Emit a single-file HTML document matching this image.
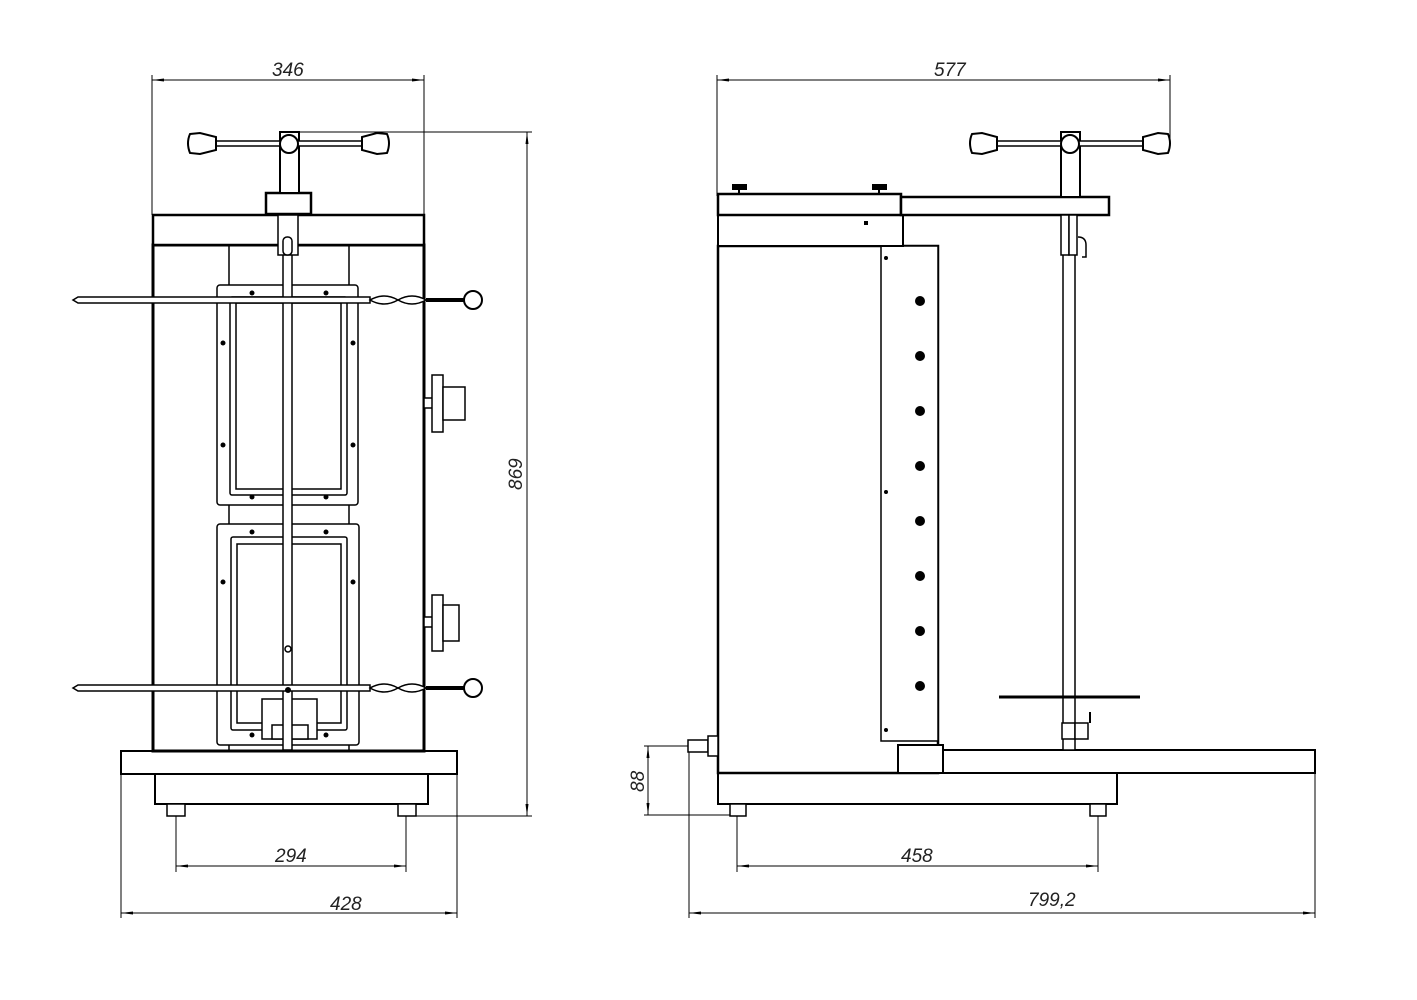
<!DOCTYPE html>
<html><head><meta charset="utf-8"><style>
html,body{margin:0;padding:0;background:#fff;}
svg{display:block}
text{font-family:"Liberation Sans",sans-serif;font-style:italic;font-size:19px;fill:#222}
</style></head><body>
<svg width="1417" height="1000" viewBox="0 0 1417 1000" xmlns="http://www.w3.org/2000/svg">
<defs>
<marker id="a" markerWidth="12" markerHeight="6" refX="12" refY="3" orient="auto-start-reverse" markerUnits="userSpaceOnUse"><path d="M0,1.5 L12,3 L0,4.5z" fill="#000"/></marker>
</defs>
<g fill="none" stroke="#000" stroke-width="1">
<!-- LEFT VIEW dims -->
<line x1="152" y1="75" x2="152" y2="215"/><line x1="424" y1="75" x2="424" y2="215"/>
<line x1="152" y1="80" x2="424" y2="80" marker-start="url(#a)" marker-end="url(#a)"/>
<line x1="299" y1="132" x2="532" y2="132"/><line x1="416" y1="816" x2="532" y2="816"/>
<line x1="527" y1="132" x2="527" y2="816" marker-start="url(#a)" marker-end="url(#a)"/>
<line x1="176" y1="792" x2="176" y2="872"/><line x1="406" y1="792" x2="406" y2="872"/>
<line x1="176" y1="866" x2="406" y2="866" marker-start="url(#a)" marker-end="url(#a)"/>
<line x1="121" y1="774" x2="121" y2="918"/><line x1="457" y1="774" x2="457" y2="918"/>
<line x1="121" y1="913" x2="457" y2="913" marker-start="url(#a)" marker-end="url(#a)"/>
<!-- RIGHT VIEW dims -->
<line x1="717" y1="75" x2="717" y2="196"/><line x1="1170" y1="75" x2="1170" y2="145"/>
<line x1="717" y1="80" x2="1170" y2="80" marker-start="url(#a)" marker-end="url(#a)"/>
<line x1="644" y1="746" x2="690" y2="746"/><line x1="644" y1="815" x2="730" y2="815"/>
<line x1="648" y1="746" x2="648" y2="815" marker-start="url(#a)" marker-end="url(#a)"/>
<line x1="737" y1="792" x2="737" y2="872"/><line x1="1098" y1="792" x2="1098" y2="872"/>
<line x1="737" y1="866" x2="1098" y2="866" marker-start="url(#a)" marker-end="url(#a)"/>
<line x1="689" y1="746" x2="689" y2="918"/><line x1="1315" y1="773" x2="1315" y2="918"/>
<line x1="689" y1="913" x2="1315" y2="913" marker-start="url(#a)" marker-end="url(#a)"/>
</g>
<text x="272" y="76">346</text>
<text x="275" y="862">294</text>
<text x="330" y="910">428</text>
<text x="934" y="76">577</text>
<text x="901" y="862">458</text>
<text x="1028" y="906">799,2</text>
<text transform="translate(522,490) rotate(-90)">869</text>
<text transform="translate(644,792) rotate(-90)">88</text>

<!-- LEFT VIEW -->
<g fill="#fff" stroke="#000" stroke-width="2">
<!-- base -->
<rect x="121" y="751" width="336" height="23"/>
<rect x="155" y="774" width="273" height="30"/>
<rect x="167" y="804" width="18" height="12" stroke-width="1.5"/>
<rect x="398" y="804" width="18" height="12" stroke-width="1.5"/>
<!-- body -->
<rect x="153" y="245" width="271" height="506" stroke-width="3"/>
<rect x="153" y="215" width="271" height="30" stroke-width="2.5"/>
<line x1="229" y1="245" x2="229" y2="750" stroke-width="1.5"/>
<line x1="349" y1="245" x2="349" y2="750" stroke-width="1.5"/>
<!-- frames -->
<rect x="217" y="285" width="141" height="220" rx="3" stroke-width="1.5"/>
<rect x="230" y="297" width="117" height="198" rx="2" stroke-width="1.5"/>
<rect x="236" y="303" width="105" height="186" stroke-width="1.5"/>
<rect x="217" y="524" width="142" height="221" rx="3" stroke-width="1.5"/>
<rect x="231" y="537" width="116" height="193" rx="2" stroke-width="1.5"/>
<rect x="237" y="544" width="104" height="179" stroke-width="1.5"/>
<rect x="262" y="699" width="55" height="40" stroke-width="1.5"/>
<rect x="272" y="725" width="36" height="14" stroke-width="1.5"/>
<!-- knobs -->
<rect x="424" y="398" width="9" height="10" stroke-width="1.5"/>
<rect x="432" y="375" width="11" height="57" stroke-width="1.5"/>
<rect x="443" y="387" width="22" height="33" stroke-width="1.5"/>
<rect x="424" y="617" width="9" height="10" stroke-width="1.5"/>
<rect x="432" y="595" width="11" height="56" stroke-width="1.5"/>
<rect x="443" y="605" width="16" height="36" stroke-width="1.5"/>
<!-- rod -->
<rect x="283" y="240" width="9" height="510" stroke-width="1.5"/>
<rect x="278" y="215" width="20" height="40" stroke-width="1.5"/>
<rect x="283" y="237" width="9" height="18" rx="4" stroke-width="1.5"/>
<circle cx="288" cy="649" r="3" stroke-width="1.5"/>
<!-- column/handle -->
<rect x="266" y="193" width="45" height="21" stroke-width="2.5"/>
<rect x="280" y="132" width="19" height="61"/>
<rect x="205" y="141" width="167" height="5" stroke-width="1.5"/>
<path d="M190,134 L200,133 L216,137 L216,150 L200,154 L190,153 Q186,143 190,134z"/>
<path d="M387,134 L377,133 L362,137 L362,150 L377,154 L387,153 Q391,143 387,134z"/>
<circle cx="289" cy="144" r="9"/>
<!-- skewers -->
<path d="M73,300 L78,297 L370,297 L370,303 L78,303z" stroke-width="1.5"/>
<path d="M370,300 q14,-8 28,0 q14,-8 28,0 q-14,8 -28,0 q-14,8 -28,0z" stroke-width="1.5"/>
<line x1="426" y1="300" x2="464" y2="300" stroke-width="4"/>
<circle cx="473" cy="300" r="9"/>
<path d="M73,688 L78,685 L370,685 L370,691 L78,691z" stroke-width="1.5"/>
<path d="M370,688 q14,-8 28,0 q14,-8 28,0 q-14,8 -28,0 q-14,8 -28,0z" stroke-width="1.5"/>
<line x1="426" y1="688" x2="464" y2="688" stroke-width="4"/>
<circle cx="473" cy="688" r="9"/>
</g>
<g fill="#000">
<circle cx="252" cy="293" r="2.5"/><circle cx="326" cy="293" r="2.5"/><circle cx="223" cy="343" r="2.5"/><circle cx="353" cy="343" r="2.5"/>
<circle cx="223" cy="445" r="2.5"/><circle cx="353" cy="445" r="2.5"/><circle cx="252" cy="497" r="2.5"/><circle cx="326" cy="497" r="2.5"/>
<circle cx="252" cy="532" r="2.5"/><circle cx="326" cy="532" r="2.5"/><circle cx="223" cy="582" r="2.5"/><circle cx="353" cy="582" r="2.5"/>
<circle cx="252" cy="735" r="2.5"/><circle cx="326" cy="735" r="2.5"/><circle cx="288" cy="690" r="3"/>
</g>

<!-- RIGHT VIEW -->
<g fill="#fff" stroke="#000" stroke-width="2">
<rect x="943" y="750" width="372" height="23"/>
<rect x="718" y="773" width="399" height="31"/>
<rect x="730" y="804" width="16" height="12" stroke-width="1.5"/>
<rect x="1090" y="804" width="16" height="12" stroke-width="1.5"/>
<rect x="718" y="246" width="220" height="527" stroke-width="2.5"/>
<rect x="898" y="745" width="45" height="28"/>
<rect x="881" y="246" width="57" height="495" stroke-width="1.5"/>
<rect x="718" y="215" width="185" height="31"/>
<rect x="718" y="194" width="183" height="21" stroke-width="2.5"/>
<rect x="901" y="197" width="208" height="18" stroke-width="2.5"/>
<path d="M688,740 h20 v12 h-20z" stroke-width="1.5"/>
<rect x="708" y="736" width="10" height="20" stroke-width="1.5"/>
<!-- rod -->
<rect x="1063" y="215" width="12" height="535" stroke-width="1.5"/>
<rect x="1061" y="215" width="8" height="40" stroke-width="1.5"/>
<rect x="1069" y="215" width="8" height="40" stroke-width="1.5"/>
<path d="M1078,237 q8,0 8,8 v12 h-4" stroke-width="1.5"/>
<rect x="1062" y="723" width="13" height="16" stroke-width="1.5"/>
<rect x="1075" y="723" width="13" height="16" stroke-width="1.5"/>
<line x1="1090" y1="723" x2="1090" y2="712" stroke-width="2"/>
<line x1="999" y1="697" x2="1140" y2="697" stroke-width="3"/>
<!-- column/handle -->
<rect x="1061" y="132" width="19" height="65"/>
<rect x="987" y="141" width="165" height="5" stroke-width="1.5"/>
<path d="M972,134 L982,133 L997,137 L997,150 L982,154 L972,153 Q968,143 972,134z"/>
<path d="M1168,134 L1158,133 L1143,137 L1143,150 L1158,154 L1168,153 Q1172,143 1168,134z"/>
<circle cx="1070" cy="144" r="9"/>
<!-- screws on top -->
<rect x="733" y="185" width="13" height="4" fill="#000"/><line x1="739" y1="189" x2="739" y2="194"/>
<rect x="873" y="185" width="13" height="4" fill="#000"/><line x1="879" y1="189" x2="879" y2="194"/>
</g>
<g fill="#000">
<rect x="864" y="221" width="4" height="4"/>
<circle cx="886" cy="258" r="2"/><circle cx="886" cy="492" r="2"/><circle cx="886" cy="730" r="2"/>
<circle cx="920" cy="301" r="5"/><circle cx="920" cy="356" r="5"/><circle cx="920" cy="411" r="5"/><circle cx="920" cy="466" r="5"/>
<circle cx="920" cy="521" r="5"/><circle cx="920" cy="576" r="5"/><circle cx="920" cy="631" r="5"/><circle cx="920" cy="686" r="5"/>
</g>
</svg>
</body></html>
